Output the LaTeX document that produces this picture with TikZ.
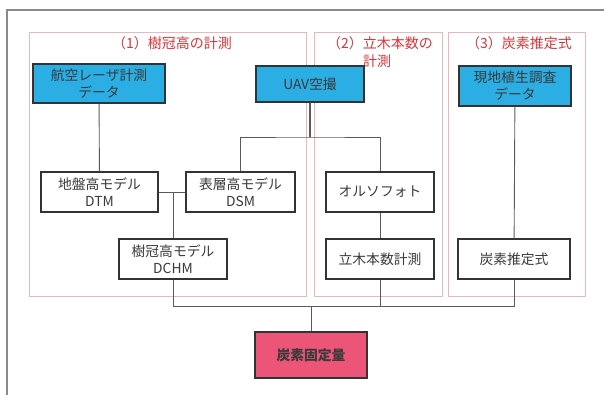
\documentclass[tikz,border=0pt]{standalone}
\usepackage{fontspec}
\setmainfont{Noto Sans CJK JP}
\definecolor{boxblue}{HTML}{2BAEE3}
\definecolor{boxpink}{HTML}{EC5478}
\definecolor{regionc}{HTML}{E8B8BC}
\definecolor{titlered}{HTML}{D8343A}
\definecolor{linec}{HTML}{5A5A5A}
\definecolor{borderc}{HTML}{333333}
\definecolor{textc}{HTML}{3A3A3A}
\definecolor{framec}{HTML}{8A8A8A}
\begin{document}
\begin{tikzpicture}[x=1pt,y=-1pt,
  stepbox/.style={draw=borderc, line width=1.3pt, fill=white, inner sep=0pt, align=center,
    text=textc, font=\fontsize{13.8}{17}\selectfont},
  bluebox/.style={stepbox, fill=boxblue},
  pinkbox/.style={stepbox, fill=boxpink, font=\fontsize{13.8}{17}\selectfont\bfseries},
  region/.style={draw=regionc, line width=0.8pt},
  titletext/.style={text=titlered, font=\fontsize{14}{17}\selectfont, inner sep=0pt},
  conn/.style={draw=linec, line width=0.9pt}]
\useasboundingbox (0,0) rectangle (604,394);
% outer frame
\draw[framec, line width=1.4pt] (7,400) -- (7,10) -- (610,10);
% regions
\draw[region] (29,32) rectangle (306,296);
\draw[region] (314,32) rectangle (442,296);
\draw[region] (448,32) rectangle (585,296);
% titles
\node[titletext] (t1) at (172,43) {（1）樹冠高の計測};
\node[titletext, anchor=west] (t2a) at (327,43) {（2）立木本数の};
\node[titletext, anchor=west] (t2b) at (363,61) {計測};
\node[titletext] (t3) at (519,43) {（3）炭素推定式};
% boxes
\node[bluebox, minimum width=132pt, minimum height=39pt] (las) at (99,83.5) {航空レーザ計測\\データ};
\node[bluebox, minimum width=108pt, minimum height=36pt] (uav) at (310,84) {UAV空撮};
\node[bluebox, minimum width=112pt, minimum height=40pt] (gen) at (515,86) {現地植生調査\\データ};
\node[stepbox, minimum width=117pt, minimum height=40pt] (dtm) at (99.5,192) {地盤高モデル\\DTM};
\node[stepbox, minimum width=109pt, minimum height=40pt] (dsm) at (240.5,192) {表層高モデル\\DSM};
\node[stepbox, minimum width=108pt, minimum height=40pt] (dchm) at (173,259) {樹冠高モデル\\DCHM};
\node[stepbox, minimum width=108pt, minimum height=40pt] (ortho) at (380,192) {オルソフォト};
\node[stepbox, minimum width=108pt, minimum height=40pt] (count) at (380,259) {立木本数計測};
\node[stepbox, minimum width=112pt, minimum height=40pt] (est) at (514,259) {炭素推定式};
\node[pinkbox, minimum width=112pt, minimum height=46pt] (fix) at (311,355) {炭素固定量};
% junctions
\coordinate (uavj) at (310,137);
\coordinate (botj) at (311,306);
% connectors
\draw[conn] (las) -- (dtm);
\draw[conn, line width=1.4pt] (uav) -- (uavj);
\draw[conn] (dsm.north) |- (uavj) -| (ortho.north);
\draw[conn] (dtm.east) -- (dsm.west);
\draw[conn] (dchm.north |- dtm.east) -- (dchm.north);
\draw[conn] (ortho) -- (count);
\draw[conn] (gen) -- (est);
\draw[conn] (dchm.south) -- (dchm.south |- botj) -- (est.south |- botj) -- (est.south);
\draw[conn] (count.south) -- (count.south |- botj);
\draw[conn] (fix.north) -- (fix.north |- botj);
\end{tikzpicture}
\end{document}
